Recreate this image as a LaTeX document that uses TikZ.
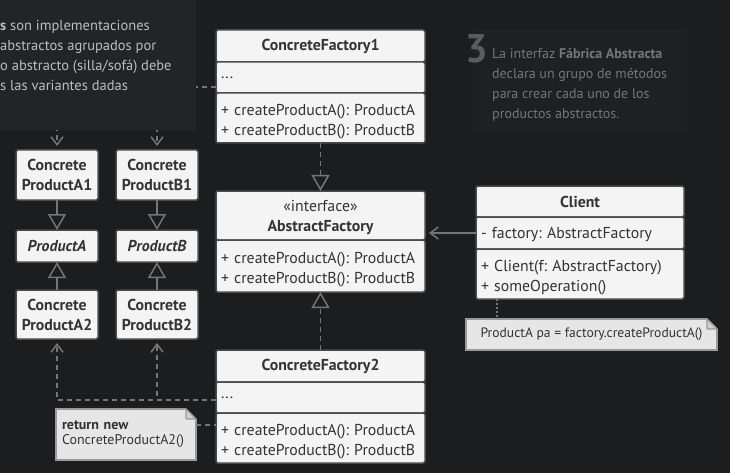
\documentclass[tikz,border=0pt]{standalone}
\usepackage{fontspec}
\setmainfont{PT Sans}
\usetikzlibrary{arrows.meta}
\definecolor{bg}{HTML}{1C1D1F}
\definecolor{panel}{HTML}{232427}
\definecolor{panelr}{HTML}{1F2022}
\definecolor{boxfill}{HTML}{F4F4F4}
\definecolor{boxline}{HTML}{4A4A4A}
\definecolor{boxtext}{HTML}{333333}
\definecolor{conncol}{HTML}{767676}
\definecolor{notefill}{HTML}{E6E6E6}
\definecolor{noteline}{HTML}{9A9A9A}
\definecolor{foldfill}{HTML}{D0D0D0}
\definecolor{paneltext}{HTML}{BDBDBD}
\definecolor{rtext}{HTML}{767676}
\definecolor{bignum}{HTML}{5C5C5C}
\newcommand\mynotefold[1]{%
  \fill[bg] ([xshift=-10pt,yshift=1pt]#1.north east) -- ([xshift=1pt,yshift=1pt]#1.north east) -- ([xshift=1pt,yshift=-10pt]#1.north east) -- cycle;
  \draw[draw=noteline,line width=1.2pt,fill=foldfill,line join=round] ([xshift=-10pt]#1.north east) -- ([xshift=-10pt,yshift=-10pt]#1.north east) -- ([yshift=-10pt]#1.north east) -- cycle;}
\begin{document}
\frenchspacing
\begin{tikzpicture}[x=1pt,y=-1pt,
  comp/.style={draw=boxline,fill=boxfill,line width=1.5pt,rounded corners=1.5pt,anchor=north west,
    inner xsep=5pt,inner ysep=0pt,outer sep=0pt,text=boxtext,font=\fontsize{15.8}{20}\selectfont,align=left},
  hdr/.style={comp,align=center,font=\fontsize{15.8}{20}\selectfont\bfseries},
  meth/.style={comp,text height=19pt},
  wide/.style={text width=199pt},
  narrow/.style={text width=72pt},
  notebox/.style={draw=noteline,fill=notefill,line width=1.2pt,anchor=north west,inner ysep=0pt,outer sep=0pt,
    text=boxtext,font=\fontsize{14}{15}\selectfont},
  conn/.style={draw=conncol,line width=1.5pt},
  dsh/.style={dash pattern=on 5pt off 4pt},
  gen/.style={-{Triangle[open,length=16pt,width=18pt,line width=1.5pt]}},
  barb/.style={-{Straight Barb[length=8pt,width=12pt,line width=1.5pt]},shorten >=4pt}
]
\useasboundingbox (0,0) rectangle (730,473);
\fill[bg] (0,0) rectangle (730,473);

% right panel
\fill[panelr] (473,30) rectangle (687,133);
\node[text=bignum,font=\fontsize{40}{40}\selectfont\bfseries,inner sep=0pt] (num) at (477,49) {3};
\node[anchor=west,inner sep=0pt,align=left,text=rtext,font=\fontsize{14}{20}\selectfont] (rtxt) at (492,85)
  {La interfaz \textbf{Fábrica Abstracta}\\declara un grupo de métodos\\para crear cada uno de los\\productos abstractos.};

% ConcreteFactory1
\node[hdr,wide,minimum height=32pt] (cf1h) at (216,30) {ConcreteFactory1};
\node[comp,wide,minimum height=31pt] (cf1a) at (216,62) {...};
\node[meth,wide,minimum height=50pt] (cf1m) at (216,93) {+ createProductA(): ProductA\\+ createProductB(): ProductB};

% AbstractFactory
\node[hdr,wide,minimum height=49pt,text height=15pt] (afh) at (216,191) {\textmd{«interface»}\\AbstractFactory};
\node[meth,wide,minimum height=52pt] (afm) at (216,240) {+ createProductA(): ProductA\\+ createProductB(): ProductB};

% ConcreteFactory2
\node[hdr,wide,minimum height=32pt] (cf2h) at (216,350) {ConcreteFactory2};
\node[comp,wide,minimum height=31pt] (cf2a) at (216,382) {...};
\node[meth,wide,minimum height=50pt] (cf2m) at (216,413) {+ createProductA(): ProductA\\+ createProductB(): ProductB};

% Client
\node[hdr,text width=198pt,minimum height=31pt] (clh) at (476,186) {Client};
\node[comp,text width=198pt,minimum height=32pt,text height=14pt] (cla) at (476,217) {- factory: AbstractFactory};
\node[meth,text width=198pt,minimum height=50pt] (clm) at (476,249) {+ Client(f: AbstractFactory)\\+ someOperation()};

% Products
\node[hdr,narrow,minimum height=50pt] (cpa1) at (16,150) {Concrete\\ProductA1};
\node[hdr,narrow,minimum height=32pt,font=\fontsize{15.8}{20}\selectfont\bfseries\itshape] (pa) at (16,230) {ProductA};
\node[hdr,narrow,minimum height=49pt] (cpa2) at (16,290) {Concrete\\ProductA2};
\node[hdr,narrow,minimum height=50pt] (cpb1) at (116,150) {Concrete\\ProductB1};
\node[hdr,narrow,minimum height=32pt,font=\fontsize{15.8}{20}\selectfont\bfseries\itshape] (pb) at (116,230) {ProductB};
\node[hdr,narrow,minimum height=49pt] (cpb2) at (116,290) {Concrete\\ProductB2};

% Notes
\node[notebox,minimum width=251pt,minimum height=31pt,font=\fontsize{13.6}{15}\selectfont] (n1) at (466,319) {ProductA pa = factory.createProductA()};
\mynotefold{n1}
\node[notebox,text width=128pt,inner xsep=6pt,minimum height=51pt,align=left] (n2) at (56,409) {\textbf{return new}\\ConcreteProductA2()};
\mynotefold{n2}

% Connectors
\draw[conn,dsh,gen] (cf1m.south) -- (afh.north);
\draw[conn,dsh,gen] (cf2h.north) -- (afm.south);
\draw[conn,barb] (cla.west) -- (cla.west -| afh.east);
\draw[conn,dash pattern=on 2pt off 2pt] ([xshift=-83pt]clm.south) -- ([xshift=-83pt]clm.south |- n1.north);
\draw[conn,dsh,barb] ([yshift=-9.5pt]cf1a.west) -| (cpa1.north);
\draw[conn,dsh,barb] ([yshift=-9.5pt]cf1a.west) -| (cpb1.north);
\draw[conn,dsh,barb] ([yshift=-2.5pt]cf2a.west) -| (cpa2.south);
\draw[conn,dsh,barb] ([yshift=-2.5pt]cf2a.west) -| (cpb2.south);
\draw[conn,dsh] ([yshift=9.5pt]n2.east) -- ([yshift=9.5pt]n2.east -| cf2m.west);
\draw[conn,gen] (cpa1.south) -- (pa.north);
\draw[conn,gen] (cpa2.north) -- (pa.south);
\draw[conn,gen] (cpb1.south) -- (pb.north);
\draw[conn,gen] (cpb2.north) -- (pb.south);

% left panel (covers the connectors behind it)
\fill[panel] (0,0) rectangle (196,130);
\node[anchor=west,inner sep=0pt,align=left,text=paneltext,font=\fontsize{14.5}{20}\selectfont] (ltxt) at (0,55)
  {\textbf{s} son implementaciones\\abstractos agrupados por\\o abstracto (silla/sofá) debe\\s las variantes dadas};
\end{tikzpicture}
\end{document}
